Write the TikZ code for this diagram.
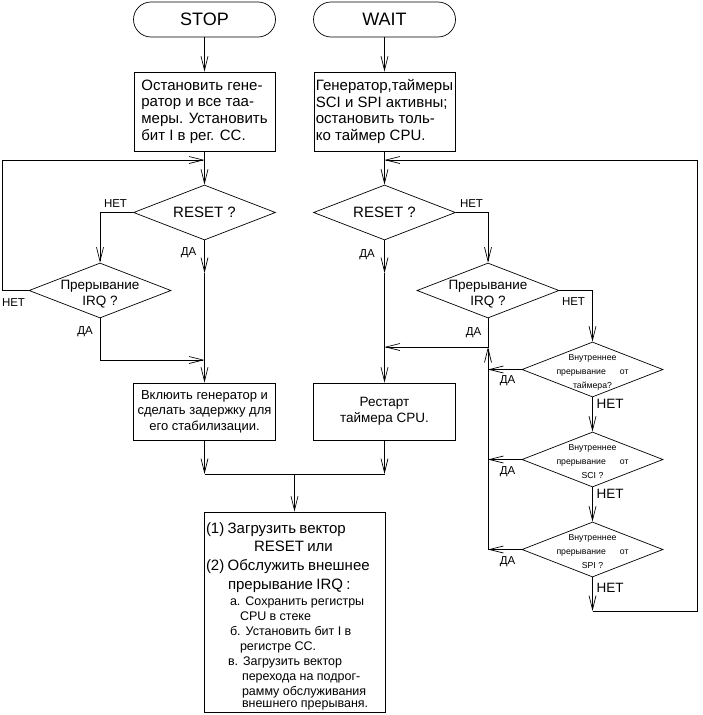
\documentclass[tikz,border=0pt]{standalone}
\usepackage{fontspec}
\setmainfont{Liberation Sans}
\usetikzlibrary{shapes.geometric,arrows.meta}
\tikzstyle{term} = [draw, rectangle, rounded corners=17.5pt, minimum width=142pt, minimum height=35pt, inner sep=0pt, font=\fontsize{18}{20}\selectfont]
\tikzstyle{blk} = [draw, rectangle, inner sep=0pt, minimum width=141pt]
\tikzstyle{dia} = [draw, diamond, aspect=2.58, minimum width=142pt, minimum height=55pt, inner sep=0pt]
\tikzstyle{qtxt} = [align=center, inner sep=0pt, yshift=-4pt, font=\fontsize{13.5}{16}\selectfont]
\tikzstyle{dtxt} = [align=center, inner sep=0pt, yshift=-2.5pt, font=\fontsize{8.7}{14}\selectfont]
\tikzstyle{lbl} = [inner sep=0pt, font=\fontsize{11.5}{12}\selectfont]
\tikzstyle{lblb} = [inner sep=0pt, font=\fontsize{13.5}{14}\selectfont]

\begin{document}
\begin{tikzpicture}[->,>={Straight Barb[length=14pt,width=7pt]},line width=0.7pt,x=1pt,y=-1pt]
\useasboundingbox (0,0) rectangle (702,715);

\node[term] (1) at (204.5,19.5) {STOP};
\node[term] (2) at (384.5,19.5) {WAIT};
\node[blk, minimum height=79pt, align=left, font=\fontsize{15}{16.7}\selectfont] (3) at (204.5,111.5) {Остановить гене-\\ратор и все таа-\\меры. Установить\\бит I в рег. CC.};
\node[blk, minimum height=79pt, align=left, font=\fontsize{15}{16.7}\selectfont] (4) at (384.5,111.5) {Генератор,таймеры\\SCI и SPI активны;\\остановить толь-\\ко таймер CPU.};
\node[dia, font=\fontsize{15}{16}\selectfont] (5) at (204.5,212.5) {RESET ?};
\node[dia, font=\fontsize{15}{16}\selectfont] (6) at (384.5,212.5) {RESET ?};
\node[dia, label={[qtxt]center:Прерывание\\IRQ ?}] (7) at (100,290.5) {};
\node[dia, label={[qtxt]center:Прерывание\\IRQ ?}] (8) at (488,290.5) {};
\node[blk, minimum width=142pt, minimum height=57pt, align=center, font=\fontsize{13}{15.5}\selectfont] (9) at (204.5,411.5) {Вклюить генератор и\\сделать задержку для\\его стабилизации.};
\node[blk, minimum width=142pt, minimum height=57pt, align=center, font=\fontsize{13.5}{16}\selectfont] (10) at (384.5,411.5) {Рестарт\\таймера CPU.};
\node[dia, minimum width=141pt, label={[dtxt]center:Внутреннее\\прерывание\hspace{14pt}от\\таймера?}] (11) at (592.5,369.5) {};
\node[dia, minimum width=141pt, label={[dtxt]center:Внутреннее\\прерывание\hspace{14pt}от\\SCI ?}] (12) at (592.5,459.5) {};
\node[dia, minimum width=141pt, label={[dtxt]center:Внутреннее\\прерывание\hspace{14pt}от\\SPI ?}] (13) at (592.5,549.5) {};
\node[blk, minimum width=181pt, minimum height=200pt, text width=177pt, align=left] (14) at (294.5,612) {%
\fontsize{15}{18.8}\selectfont
\rule{0pt}{19pt}(1) Загрузить вектор\\
\hspace*{48pt}RESET или\\
(2) Обслужить внешнее\\
\hspace*{22pt}прерывание IRQ :\par
\vspace{1pt}%
\fontsize{12.5}{15}\selectfont
\hspace*{24pt}а. Сохранить регистры\\
\hspace*{34pt}CPU в стеке\\
\hspace*{24pt}б. Установить бит I в\\
\hspace*{34pt}регистре CC.\\
\hspace*{22pt}в. Загрузить вектор\\
\hspace*{36pt}перехода на подрог-\\
\hspace*{36pt}рамму обслуживания\\
\hspace*{36pt}внешнего прерываня.};

\coordinate (j1) at (204.5,160);
\coordinate (j2) at (204.5,360);
\coordinate (j3) at (384.5,347);
\coordinate (j4) at (488,347);
\coordinate (j5) at (384.5,160);
\coordinate (a1) at (204.5,273);
\coordinate (a2) at (384.5,273);
\coordinate (c1) at (2,290.5);
\coordinate (k1) at (488,369.5);
\coordinate (k2) at (488,459.5);
\coordinate (k3) at (488,549.5);
\coordinate (e1) at (592.5,611);
\coordinate (e2) at (697,611);
\coordinate (f1) at (204.5,474);
\coordinate (f2) at (384.5,474);
\coordinate (f3) at (294.5,474);

\path
(1) edge (3)
(2) edge (4)
(3) edge (5)
(4) edge (6)
(5) edge (a1)
(a1) edge[-] (j2)
(j2) edge (9)
(6) edge (a2)
(a2) edge[-] (j3)
(j3) edge (10)
(11) edge (12)
(12) edge (13)
(13) edge (e1)
(11) edge (k1)
(12) edge (k2)
(13) edge (k3)
(k3) edge (j4)
(9) edge (f1)
(10) edge (f2)
(f1) edge[-] (f2)
(f3) edge (14);

\draw (5.west) -| (7.north);
\draw (6.east) -| (8.north);
\draw (7.south) |- (j2);
\draw (8.south) |- (j3);
\draw (8.east) -| (11.north);
\draw (7.west) -- (c1) |- (j1);
\draw (e1) -- (e2) |- (j5);

\node[lbl] (n1) at (115.5,204) {НЕТ};
\node[lbl] (y1) at (188.5,253) {ДА};
\node[lbl] (n2) at (13.5,303) {НЕТ};
\node[lbl] (y2) at (85,332) {ДА};
\node[lbl] (n3) at (471.5,204) {НЕТ};
\node[lbl] (y3) at (367,255) {ДА};
\node[lbl] (n4) at (573.5,302) {НЕТ};
\node[lbl] (y4) at (473.5,333) {ДА};
\node[lbl] (y5) at (507.5,381) {ДА};
\node[lbl] (y6) at (507.5,471.5) {ДА};
\node[lbl] (y7) at (507.5,562) {ДА};
\node[lblb] (n5) at (610,404) {НЕТ};
\node[lblb] (n6) at (610,494) {НЕТ};
\node[lblb] (n7) at (610,587.5) {НЕТ};
\end{tikzpicture}
\end{document}
